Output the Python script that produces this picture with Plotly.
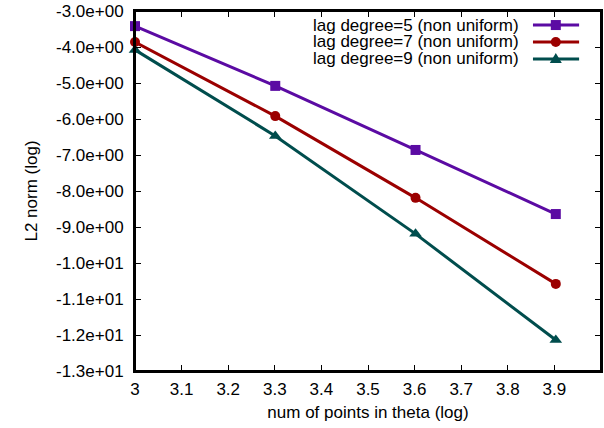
import plotly.graph_objects as go

# data
x_log_points = [3.0, 3.301, 3.602, 3.903]
lag5 = [-3.42, -5.08, -6.86, -8.64]
lag7 = [-3.86, -5.92, -8.19, -10.58]
lag9 = [-4.08, -6.47, -9.19, -12.14]
names = ['lag degree=5 (non uniform)', 'lag degree=7 (non uniform)', 'lag degree=9 (non uniform)']
colors = ['#5b0ba3', '#9b0000', '#004d4d']
symbols = ['square', 'circle', 'triangle-up']
y_ticks = [-3, -4, -5, -6, -7, -8, -9, -10, -11, -12, -13]
x_ticks = [3.0, 3.1, 3.2, 3.3, 3.4, 3.5, 3.6, 3.7, 3.8, 3.9, 4.0]

FONT = 'Liberation Sans, Arial, sans-serif'

fig = go.Figure()
for ys, name, c, s in zip([lag5, lag7, lag9], names, colors, symbols):
    fig.add_trace(go.Scatter(x=x_log_points, y=ys, mode='lines+markers', name=name,
                             line=dict(color=c, width=3),
                             marker=dict(symbol=s, size=10 if s != 'triangle-up' else 11, color=c),
                             showlegend=False, cliponaxis=False))

# gnuplot-style key: text right aligned, sample on the right
key_y = [0.961, 0.914, 0.867]
for ky, name, c, s in zip(key_y, names, colors, symbols):
    fig.add_shape(type='line', xref='paper', yref='paper', x0=0.854, x1=0.953, y0=ky, y1=ky,
                  line=dict(color=c, width=3))
    mk = dict(xref='paper', yref='paper', xsizemode='pixel', ysizemode='pixel',
              xanchor=0.903, yanchor=ky, fillcolor=c, line=dict(width=0))
    if s == 'square':
        fig.add_shape(type='rect', x0=-5, x1=5, y0=-5, y1=5, **mk)
    elif s == 'circle':
        fig.add_shape(type='circle', x0=-5, x1=5, y0=-5, y1=5, **mk)
    else:
        fig.add_shape(type='path', path='M -6,-4 L 6,-4 L 0,6 Z', **mk)
    fig.add_annotation(x=0.828, y=ky, xref='paper', yref='paper', text=name, showarrow=False,
                       xanchor='right', yanchor='middle', font=dict(size=17, color='black', family=FONT))

# frame around the plot area
fig.add_shape(type='rect', xref='paper', yref='paper', x0=0, x1=1, y0=0, y1=1,
              line=dict(color='black', width=2), layer='above')

axis_common = dict(showline=True, linecolor='black', linewidth=2, mirror='ticks', ticks='inside',
                   ticklen=6, tickwidth=1, tickcolor='black', showgrid=False, zeroline=False,
                   automargin=False, tickfont=dict(size=17, color='black', family=FONT))

fig.update_layout(
    width=604, height=428,
    margin=dict(l=135, r=3, t=11, b=57),
    plot_bgcolor='white', paper_bgcolor='white',
    font=dict(family=FONT, size=17, color='black'),
    xaxis=dict(range=[3, 4], tickvals=x_ticks, ticktext=[f'{v:g}' for v in x_ticks],
               ticklabelstandoff=2,
               title=dict(text='num of points in theta (log)', standoff=8, font=dict(size=17)),
               **axis_common),
    yaxis=dict(range=[-13, -3], tickvals=y_ticks, ticktext=[f'{float(v):.1e}' for v in y_ticks],
               ticklabelstandoff=6,
               title=dict(text='L2 norm (log)', standoff=14, font=dict(size=17)), **axis_common),
)

# drop the default page margin so the figure sits at the window's corner
fig.write_html('out.html', config={'displayModeBar': False},
               post_script="document.body.style.margin='0';")
